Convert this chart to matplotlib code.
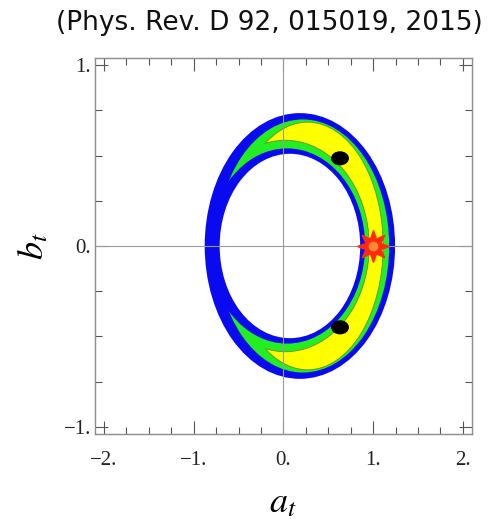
import matplotlib
matplotlib.use("Agg")
import matplotlib.pyplot as plt
from matplotlib.patches import Ellipse
from matplotlib.ticker import FixedLocator, FuncFormatter
from matplotlib.markers import MarkerStyle

plt.rcParams["mathtext.fontset"] = "stix"

# Allowed regions in the (a_t, b_t) plane, outermost first.
# Each region is the crescent between an outer and an inner ellipse
# (centre on the a_t axis, semi-axis along a_t, semi-axis along b_t).
region_labels = ["3 sigma", "2 sigma", "1 sigma"]
region_colors = ["#0a0af0", "#22ee22", "#ffff00"]
outer_cx = [0.183, 0.216, 0.268]
outer_ax = [1.061, 0.962, 0.843]
outer_ay = [0.735, 0.700, 0.685]
inner_cx = [0.072, 0.040, 0.020]
inner_ax = [0.783, 0.870, 0.936]
inner_ay = [0.510, 0.540, 0.585]

# Best-fit points and the Standard Model point
best_a = [0.63, 0.63]
best_b = [0.485, -0.45]
sm_a = [1.0]
sm_b = [0.0]

x_major = [-2, -1, 0, 1, 2]
y_major = [-1, 0, 1]

fig = plt.figure(figsize=(4.9, 5.19), dpi=100)
ax = fig.add_axes([0.194, 0.1638, 0.769, 0.7245])
ax.set_xlim(-2.1, 2.1)
ax.set_ylim(-1.04, 1.04)


def ell(i, outer, **kw):
    if outer:
        return Ellipse((outer_cx[i], 0.0), 2 * outer_ax[i], 2 * outer_ay[i], **kw)
    return Ellipse((inner_cx[i], 0.0), 2 * inner_ax[i], 2 * inner_ay[i], **kw)


# Outer discs, painted from the widest region inwards
outer_patches = []
for i, c in enumerate(region_colors):
    p = ell(i, True, facecolor=c, edgecolor="none", zorder=1 + i)
    ax.add_patch(p)
    outer_patches.append(p)

# Outer contour line of the 1 sigma crescent (the part running through
# the other regions is painted over by the carving below)
edge_out = ell(2, True, facecolor="none", edgecolor="#6b8a2a", lw=0.6, zorder=3.5)
ax.add_patch(edge_out)

# Carve the inner boundary of each crescent (innermost region first),
# restoring the colour of the enclosing region.
fill_below = [None, region_colors[0], region_colors[1]]
for i in [2, 1]:
    p = ell(i, False, facecolor=fill_below[i], edgecolor="none", zorder=4 + (2 - i))
    ax.add_patch(p)
    p.set_clip_path(outer_patches[i])
    # cover the antialiasing seam left by the clip edge
    seam = ell(i, True, facecolor="none", edgecolor=fill_below[i], lw=1.6,
               zorder=4 + (2 - i))
    ax.add_patch(seam)
    seam.set_clip_path(p)

# Inner contour line of the 1 sigma crescent
edge_in = ell(2, False, facecolor="none", edgecolor="#6b8a2a", lw=0.6, zorder=7)
ax.add_patch(edge_in)
edge_in.set_clip_path(outer_patches[2])

# Hole in the middle
ax.add_patch(ell(0, False, facecolor="white", edgecolor="none", zorder=8))

# Axis lines through the origin
ax.axhline(0, color="#9a9a9a", lw=0.8, zorder=9)
ax.axvline(0, color="#9a9a9a", lw=0.8, zorder=9)

# Best-fit points
for a, b in zip(best_a, best_b):
    ax.add_patch(Ellipse((a, b), 0.2, 0.078, facecolor="black", edgecolor="none", zorder=10))

# Standard Model point as a red burst
burst = MarkerStyle((8, 1, 0))
ax.plot(sm_a, sm_b, linestyle="none", marker=burst, markersize=23,
        markerfacecolor="#ff2a10", markeredgecolor="#ff2a10", zorder=11)
ax.plot(sm_a, sm_b, linestyle="none", marker="o", markersize=7,
        markerfacecolor="#ff8a30", markeredgecolor="none", zorder=12)

# Frame and ticks
for s in ax.spines.values():
    s.set_color("#8c8c8c")
    s.set_linewidth(1.0)

ax.xaxis.set_major_locator(FixedLocator(x_major))
ax.yaxis.set_major_locator(FixedLocator(y_major))
ax.xaxis.set_minor_locator(FixedLocator([v / 4 for v in range(-8, 9)]))
ax.yaxis.set_minor_locator(FixedLocator([v / 4 for v in range(-4, 5)]))


def fmt(v, pos):
    s = f"{abs(int(round(v)))}."
    return ("\u2212" + s) if v < 0 else s


ax.xaxis.set_major_formatter(FuncFormatter(fmt))
ax.yaxis.set_major_formatter(FuncFormatter(fmt))
ax.tick_params(which="both", direction="in", top=True, right=True,
               color="#555555", width=0.8)
ax.tick_params(which="major", length=9.5, labelsize=15)
ax.tick_params(axis="x", which="major", pad=12)
ax.tick_params(axis="y", which="major", pad=3)
ax.tick_params(which="minor", length=5)
for lab in ax.get_xticklabels() + ax.get_yticklabels():
    lab.set_family("Liberation Serif")
    lab.set_color("#222222")

ax.set_xlabel("$a_t$", fontsize=26)
ax.set_ylabel("$b_t$", fontsize=26)
ax.xaxis.set_label_coords(0.499, -0.135)
ax.yaxis.set_label_coords(-0.12, 0.5)

fig.text(0.549, 0.955, "(Phys. Rev. D 92, 015019, 2015)", ha="center", va="center",
         fontsize=19, family="DejaVu Sans", color="#111111")

fig.savefig("out.png", dpi=100, facecolor="white")
